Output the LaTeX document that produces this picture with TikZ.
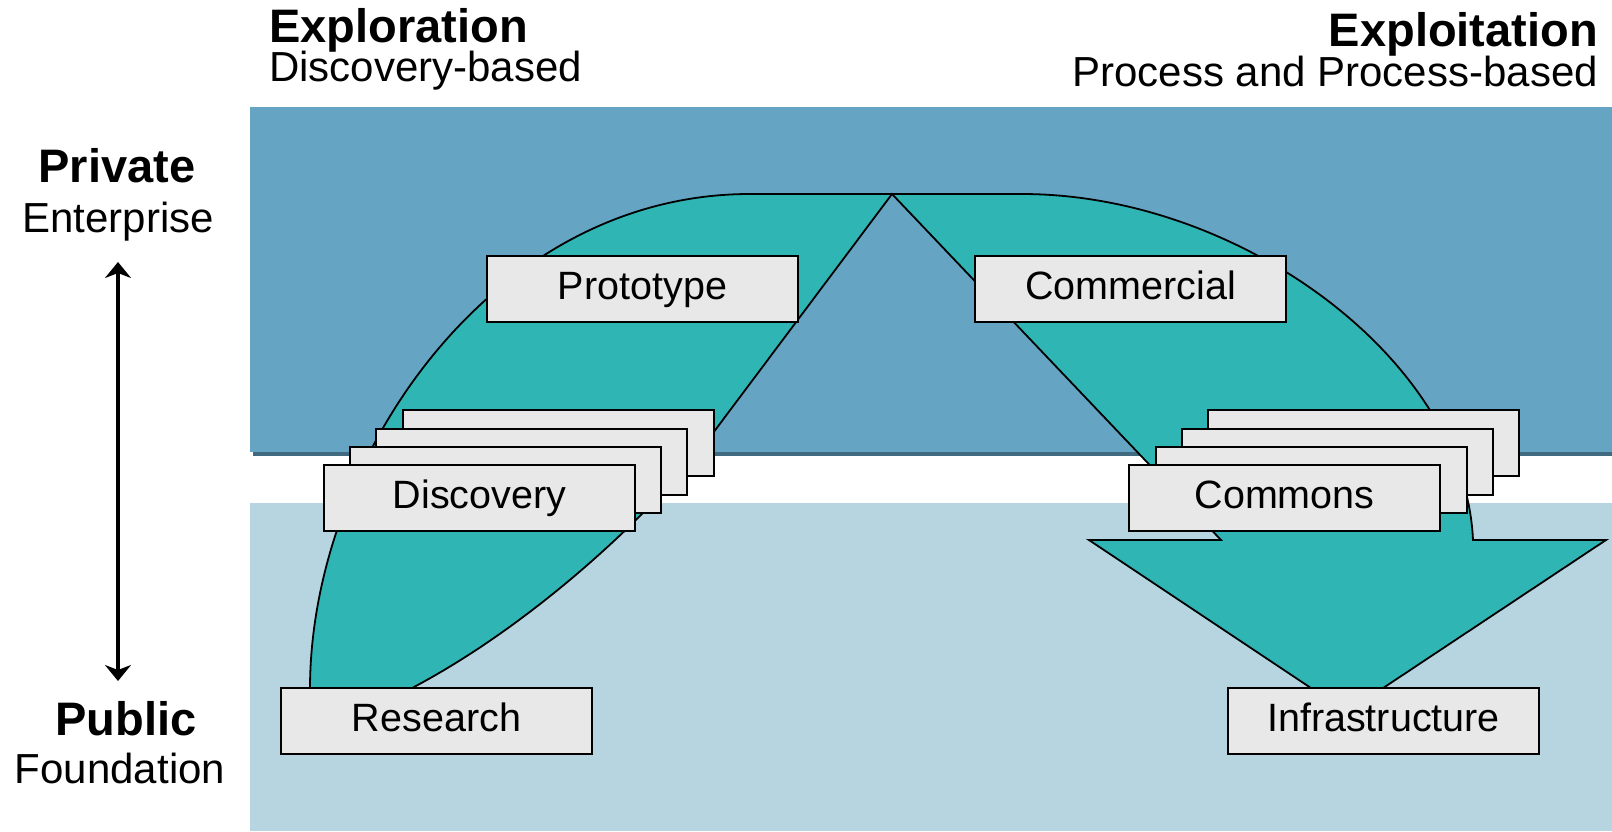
\documentclass[tikz,border=0pt]{standalone}
\usepackage{fontspec}
\setmainfont{Liberation Sans}
\usetikzlibrary{arrows.meta}
\definecolor{bandtop}{HTML}{66A4C4}
\definecolor{bandshadow}{HTML}{3F6A80}
\definecolor{bandlow}{HTML}{B7D4E1}
\definecolor{tealf}{HTML}{30B5B5}
\definecolor{boxf}{HTML}{E8E8E8}
\begin{document}
\begin{tikzpicture}[x=1pt,y=-1pt,
  card/.style={draw=black, line width=2pt, fill=boxf, minimum width=311pt, minimum height=66pt,
    inner sep=0pt, text height=28pt, text depth=8pt, font=\fontsize{39.5}{44}\selectfont, anchor=north west},
  hbold/.style={font=\fontsize{47}{52}\selectfont\bfseries, inner sep=0pt},
  hreg/.style={font=\fontsize{42}{46}\selectfont, inner sep=0pt},
  flow/.style={draw=black, line width=1.8pt, fill=tealf, line join=miter},
  axisarrow/.style={line width=3.5pt, {Stealth[length=16pt,width=26pt,inset=5pt]}-{Stealth[length=16pt,width=26pt,inset=5pt]}}]
\useasboundingbox (0,0) rectangle (1612,831);
% bands
\fill[bandshadow] (253,111) rectangle (1612,456);
\fill[bandtop] (250,107) rectangle (1612,452);
\fill[bandlow] (250,503) rectangle (1612,831);
% flow shape
\draw[flow] (310,705) -- (310,687)
  .. controls (311,460) and (490,194) .. (750,194)
  -- (1022,194)
  .. controls (1240,194) and (1465,360) .. (1473,540)
  -- (1606,540) -- (1347,712) -- (1089,540) -- (1221,540) -- (892,194) -- (713,433)
  .. controls (660,505) and (540,620) .. (414,687)
  -- (395,705) -- cycle;
% boxes
\node[card] (proto) at (486,255) {Prototype};
\node[card] (comm) at (974,255) {Commercial};
\node[card] (disc3) at (402,409) {};
\node[card] (disc2) at (375,428) {};
\node[card] (disc1) at (349,446) {};
\node[card] (disc) at (323,464) {Discovery};
\node[card] (cmns3) at (1207,409) {};
\node[card] (cmns2) at (1181,428) {};
\node[card] (cmns1) at (1155,446) {};
\node[card] (cmns) at (1128,464) {Commons};
\node[card] (res) at (280,687) {Research};
\node[card] (infra) at (1227,687) {Infrastructure};
% headers
\node[hbold, anchor=base west] (explor) at (269,42) {Exploration};
\node[hreg, anchor=base west] (explorsub) at (269,81) {Discovery-based};
\node[hbold, anchor=base east] (exploit) at (1598,46) {Exploitation};
\node[hreg, anchor=base east] (exploitsub) at (1598,86) {Process and Process-based};
\node[hbold, anchor=base] (priv) at (117,182) {Private};
\node[hreg, anchor=base] (enter) at (118,232) {Enterprise};
\node[hbold, anchor=base] (pub) at (126,735) {Public};
\node[hreg, anchor=base] (found) at (120,783) {Foundation};
% axis arrow
\coordinate (atop) at (118,262);
\coordinate (abot) at (118,681);
\draw[axisarrow] (atop) -- (abot);
\end{tikzpicture}
\end{document}
